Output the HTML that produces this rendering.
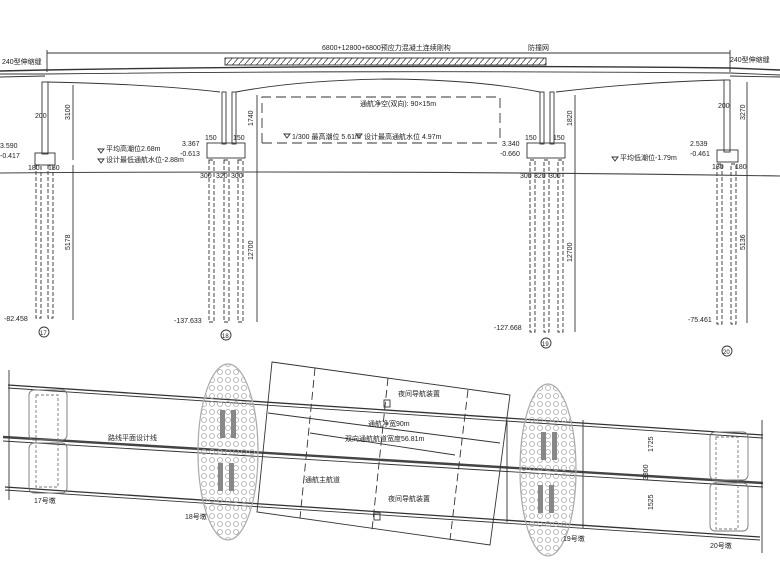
<!DOCTYPE html>
<html><head><meta charset="utf-8"><style>
html,body{margin:0;padding:0;background:#fff}
svg{display:block}
text{font-family:"Liberation Sans","Noto Sans CJK SC",sans-serif;fill:#222}
</style></head><body>
<svg width="780" height="585" viewBox="0 0 780 585" xmlns="http://www.w3.org/2000/svg">
<defs>
<pattern id="hat" width="6" height="7" patternUnits="userSpaceOnUse">
<path d="M0 7 L6 0" stroke="#444" stroke-width="0.8"/>
</pattern>
<pattern id="dots" width="8" height="8" patternUnits="userSpaceOnUse">
<circle cx="4" cy="4" r="2.5" fill="none" stroke="#aaa" stroke-width="0.8"/>
</pattern>
</defs>
<g stroke="#333" fill="none" stroke-width="0.9">
<line x1="47" y1="53" x2="730" y2="53"/>
<line x1="47" y1="50" x2="47" y2="72"/>
<line x1="730" y1="50" x2="730" y2="72"/>
<rect x="225" y="58" width="321" height="7" fill="url(#hat)"/>
<path d="M0 71 L45 70 Q390 64 730 68 L780 70" stroke-width="1.4"/>
<path d="M0 74 L45 74 Q390 70 730 73 L780 75"/>
<path d="M0 77 L45 76"/>
<path d="M730 76 L780 77"/>
<path d="M47 82 Q150 84 220 92"/>
<path d="M236 92 Q300 80 390 79 Q480 80 540 92"/>
<path d="M556 92 Q640 82 725 80"/>
<path d="M0 173 Q390 170 780 176" stroke="#444" stroke-width="1.1"/>
<rect x="42" y="82" width="6" height="72"/>
<rect x="35" y="153" width="20" height="12"/>
<rect x="36" y="165" width="5" height="153" stroke-dasharray="4 2"/>
<rect x="48" y="165" width="5" height="153" stroke-dasharray="4 2"/>
<line x1="73" y1="85" x2="73" y2="160"/>
<line x1="73" y1="165" x2="73" y2="320"/>
<circle cx="44" cy="332" r="5"/>
<rect x="222" y="92" width="4" height="52"/>
<rect x="232" y="92" width="4" height="52"/>
<rect x="207" y="143" width="38" height="15"/>
<rect x="209" y="160" width="5" height="162" stroke-dasharray="4 2"/>
<rect x="224" y="160" width="5" height="162" stroke-dasharray="4 2"/>
<rect x="238" y="160" width="5" height="162" stroke-dasharray="4 2"/>
<line x1="257" y1="95" x2="257" y2="322"/>
<circle cx="226" cy="335" r="5"/>
<rect x="540" y="92" width="4" height="52"/>
<rect x="550" y="92" width="4" height="52"/>
<rect x="527" y="143" width="38" height="15"/>
<rect x="530" y="160" width="5" height="172" stroke-dasharray="4 2"/>
<rect x="544" y="160" width="5" height="172" stroke-dasharray="4 2"/>
<rect x="558" y="160" width="5" height="172" stroke-dasharray="4 2"/>
<line x1="575" y1="95" x2="575" y2="332"/>
<circle cx="546" cy="343" r="5"/>
<rect x="724" y="80" width="6" height="72"/>
<rect x="717" y="150" width="21" height="12"/>
<rect x="717" y="164" width="5" height="160" stroke-dasharray="4 2"/>
<rect x="731" y="164" width="5" height="160" stroke-dasharray="4 2"/>
<line x1="747" y1="82" x2="747" y2="323"/>
<circle cx="727" cy="351" r="5"/>
<path d="M262 143 L262 97 L500 97 L500 143" stroke-dasharray="10 5"/>
<line x1="262" y1="143" x2="500" y2="143" stroke-dasharray="10 5"/>
<path d="M98 149 L104 149 L101 153 Z"/>
<path d="M98 159 L104 159 L101 163 Z"/>
<path d="M284 134 L290 134 L287 138 Z"/>
<path d="M356 134 L362 134 L359 138 Z"/>
<path d="M612 157 L618 157 L615 161 Z"/>

<line x1="8" y1="385" x2="763" y2="435" stroke-width="1.3"/>
<line x1="8" y1="388" x2="763" y2="438"/>
<line x1="3" y1="437" x2="763" y2="483" stroke-width="2.4" stroke="#444"/>
<line x1="3" y1="441" x2="763" y2="487"/>
<line x1="5" y1="487" x2="760" y2="537" stroke-width="1.3"/>
<line x1="5" y1="490" x2="760" y2="540"/>
<line x1="9" y1="370" x2="9" y2="500"/>
<line x1="762" y1="420" x2="762" y2="553"/>
<g stroke="#777">
<rect x="29" y="390" width="38" height="50" rx="5"/>
<rect x="29" y="443" width="38" height="50" rx="5"/>
<rect x="36" y="395" width="22" height="92" stroke-dasharray="3 2"/>
<rect x="710" y="432" width="38" height="48" rx="5"/>
<rect x="710" y="483" width="38" height="48" rx="5"/>
<rect x="716" y="437" width="22" height="92" stroke-dasharray="3 2"/>
</g>
<ellipse cx="228" cy="452" rx="30" ry="88" stroke="#aaa" stroke-width="1.2" fill="url(#dots)"/>
<ellipse cx="548" cy="470" rx="28" ry="86" stroke="#aaa" stroke-width="1.2" fill="url(#dots)"/>
<g fill="#888" stroke="none">
<rect x="220" y="410" width="5" height="28"/><rect x="231" y="410" width="5" height="28"/>
<rect x="218" y="463" width="5" height="28"/><rect x="229" y="463" width="5" height="28"/>
<rect x="541" y="432" width="5" height="28"/><rect x="552" y="432" width="5" height="28"/>
<rect x="538" y="485" width="5" height="28"/><rect x="549" y="485" width="5" height="28"/>
</g>
<path d="M272 362 L510 395 L490 545 L257 512 Z"/>
<path d="M315 368 L300 518" stroke-dasharray="8 4"/>
<path d="M468 390 L450 540" stroke-dasharray="8 4"/>
<path d="M388 378 L372 530" stroke-dasharray="8 4"/>
<path d="M268 413 L500 443"/>
<path d="M310 433 L455 455"/>
<rect x="384" y="400" width="6" height="7"/>
<rect x="374" y="513" width="6" height="7"/>
<line x1="583" y1="420" x2="583" y2="528"/>
<line x1="507" y1="420" x2="507" y2="522"/>
</g>
<g font-size="7">
<text x="322" y="50">6800+12800+6800预应力混凝土连续刚构</text>
<text x="528" y="50">防撞网</text>
<text x="2" y="64">240型伸缩缝</text>
<text x="730" y="62">240型伸缩缝</text>
<text x="360" y="106">通航净空(双向): 90×15m</text>
<text x="292" y="139">1/300 最高潮位 5.61m</text>
<text x="364" y="139">设计最高通航水位 4.97m</text>
<text x="106" y="151">平均高潮位2.68m</text>
<text x="106" y="162">设计最低通航水位-2.88m</text>
<text x="620" y="160">平均低潮位-1.79m</text>
<text x="0" y="148">3.590</text><text x="0" y="158">-0.417</text>
<text x="182" y="146">3.367</text><text x="180" y="156">-0.613</text>
<text x="502" y="146">3.340</text><text x="500" y="156">-0.660</text>
<text x="690" y="146">2.539</text><text x="690" y="156">-0.461</text>
<text x="4" y="321">-82.458</text>
<text x="174" y="323">-137.633</text>
<text x="494" y="330">-127.668</text>
<text x="688" y="322">-75.461</text>
<text x="40" y="335" font-size="6">17</text>
<text x="222" y="338" font-size="6">18</text>
<text x="542" y="346" font-size="6">19</text>
<text x="723" y="354" font-size="6">20</text>
<text x="35" y="118">200</text><text x="718" y="108">200</text>
<text x="205" y="140">150</text><text x="233" y="140">150</text>
<text x="525" y="140">150</text><text x="553" y="140">150</text>
<text x="200" y="178">300</text><text x="216" y="178">320</text><text x="231" y="178">300</text>
<text x="520" y="178">300</text><text x="534" y="178">320</text><text x="549" y="178">300</text>
<text x="28" y="170">180</text><text x="48" y="170">180</text>
<text x="712" y="169">180</text><text x="735" y="169">180</text>
<text x="108" y="440">路线平面设计线</text>
<text x="368" y="426">通航净宽90m</text>
<text x="345" y="441">双向通航航道宽度56.81m</text>
<text x="305" y="482">通航主航道</text>
<text x="398" y="396">夜间导航装置</text>
<text x="388" y="501">夜间导航装置</text>
<text x="34" y="503">17号墩</text>
<text x="185" y="519">18号墩</text>
<text x="563" y="541">19号墩</text>
<text x="710" y="548">20号墩</text>
</g>
<g font-size="7">
<text transform="translate(70,120) rotate(-90)">3100</text>
<text transform="translate(70,250) rotate(-90)">5178</text>
<text transform="translate(253,126) rotate(-90)">1740</text>
<text transform="translate(253,260) rotate(-90)">12700</text>
<text transform="translate(572,126) rotate(-90)">1820</text>
<text transform="translate(572,262) rotate(-90)">12700</text>
<text transform="translate(745,120) rotate(-90)">3270</text>
<text transform="translate(745,250) rotate(-90)">5136</text>
<text transform="translate(653,452) rotate(-90)">1725</text>
<text transform="translate(653,510) rotate(-90)">1525</text>
<text transform="translate(648,480) rotate(-90)">3300</text>
</g>
</svg>
</body></html>
